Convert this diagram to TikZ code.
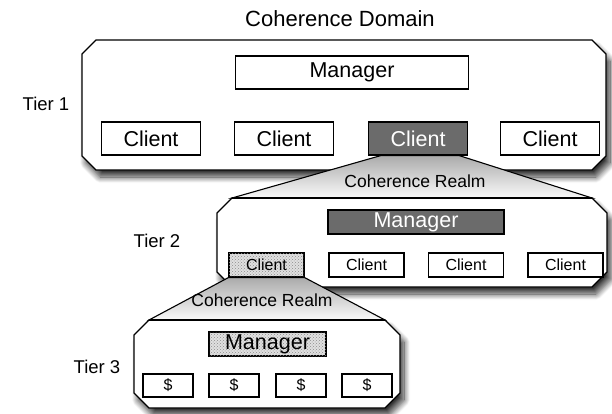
\documentclass[tikz,border=0pt]{standalone}
\usepackage{fontspec}
\setmainfont{Liberation Sans}
\usetikzlibrary{shadows.blur,patterns}
\definecolor{darkfill}{gray}{0.42}
\tikzset{
  tier/.style={draw=black, line width=1.2pt, fill=white,
    blur shadow={shadow xshift=4pt, shadow yshift=-7pt, shadow blur steps=12, shadow blur radius=6pt, shadow opacity=80}},
  realm/.style={draw=black, line width=1.1pt, top color=black!33, bottom color=black!2},
  box/.style={draw=black, line width=1.1pt, fill=white, inner sep=0pt, font=\fontsize{21.5}{21.5}\selectfont},
  small/.style={font=\fontsize{16}{16}\selectfont},
  darkbox/.style={box, fill=darkfill, text=white},
  dotbox/.style={box, fill=black!12, postaction={pattern=crosshatch dots, pattern color=black!45}},
  lbl/.style={inner sep=0pt, font=\fontsize{18.5}{18.5}\selectfont},
  realmlbl/.style={inner sep=0pt, font=\fontsize{17.5}{17.5}\selectfont},
}
\begin{document}
\begin{tikzpicture}[x=1pt,y=-1pt]
\useasboundingbox (0,0) rectangle (612,414);
% Title
\node[lbl, font=\fontsize{22}{22}\selectfont] (title) at (340,19) {Coherence Domain};
% Tier 1
\path[tier] (96,40) -- (592,40) -- (606,54) -- (606,156) -- (592,170) -- (96,170) -- (82,156) -- (82,54) -- cycle;
\node[lbl] (t1) at (46,104) {Tier 1};
% Tier 2
\path[tier] (232,198) -- (592,198) -- (607,213) -- (607,272) -- (592,287) -- (232,287) -- (217,272) -- (217,213) -- cycle;
\node[lbl] (t2) at (157,241) {Tier 2};
% Tier 1 boxes
\node[box, minimum width=233, minimum height=33] (m1) at (352,72.5) {Manager};
\node[box, minimum width=99, minimum height=33] (c11) at (151,138.5) {Client};
\node[box, minimum width=99, minimum height=33] (c12) at (284,138.5) {Client};
\node[darkbox, minimum width=99, minimum height=33] (c13) at (418,138.5) {Client};
\node[box, minimum width=99, minimum height=33] (c14) at (550,138.5) {Client};
% Realm 1
\coordinate (r1a) at ([xshift=13pt]c13.south west);
\coordinate (r1b) at ([xshift=-9pt]c13.south east);
\coordinate (r1c) at (592,198);
\coordinate (r1d) at (232,198);
\path[realm] (r1a) -- (r1b) -- (r1c) -- (r1d) -- cycle;
\node[realmlbl] (cr1) at (415,181) {Coherence Realm};
\draw[line width=1.2pt] (r1d) -- (r1c);
% Tier 3
\path[tier] (149,320) -- (385,320) -- (400,335) -- (400,393) -- (385,408) -- (149,408) -- (134,393) -- (134,335) -- cycle;
\node[lbl] (t3) at (97,367) {Tier 3};
% Tier 2 boxes
\node[darkbox, minimum width=176, minimum height=24] (m2) at (416,222) {Manager};
\node[dotbox, small, minimum width=75, minimum height=24] (c21) at (266.5,265) {Client};
\node[box, small, minimum width=75, minimum height=24] (c22) at (366.5,265) {Client};
\node[box, small, minimum width=75, minimum height=24] (c23) at (466,265) {Client};
\node[box, small, minimum width=75, minimum height=24] (c24) at (565.5,265) {Client};
% Realm 2
\coordinate (r2c) at (385,320);
\coordinate (r2d) at (149,320);
\path[realm] (c21.south west) -- (c21.south east) -- (r2c) -- (r2d) -- cycle;
\node[realmlbl] (cr2) at (262,300) {Coherence Realm};
\draw[line width=1.2pt] (r2d) -- (r2c);
% Tier 3 boxes
\node[dotbox, minimum width=117, minimum height=24] (m3) at (267.5,344) {Manager};
\node[box, small, minimum width=50, minimum height=23] (s1) at (168,385.5) {\$};
\node[box, small, minimum width=50, minimum height=23] (s2) at (234,385.5) {\$};
\node[box, small, minimum width=50, minimum height=23] (s3) at (301,385.5) {\$};
\node[box, small, minimum width=50, minimum height=23] (s4) at (367,385.5) {\$};
\end{tikzpicture}
\end{document}
